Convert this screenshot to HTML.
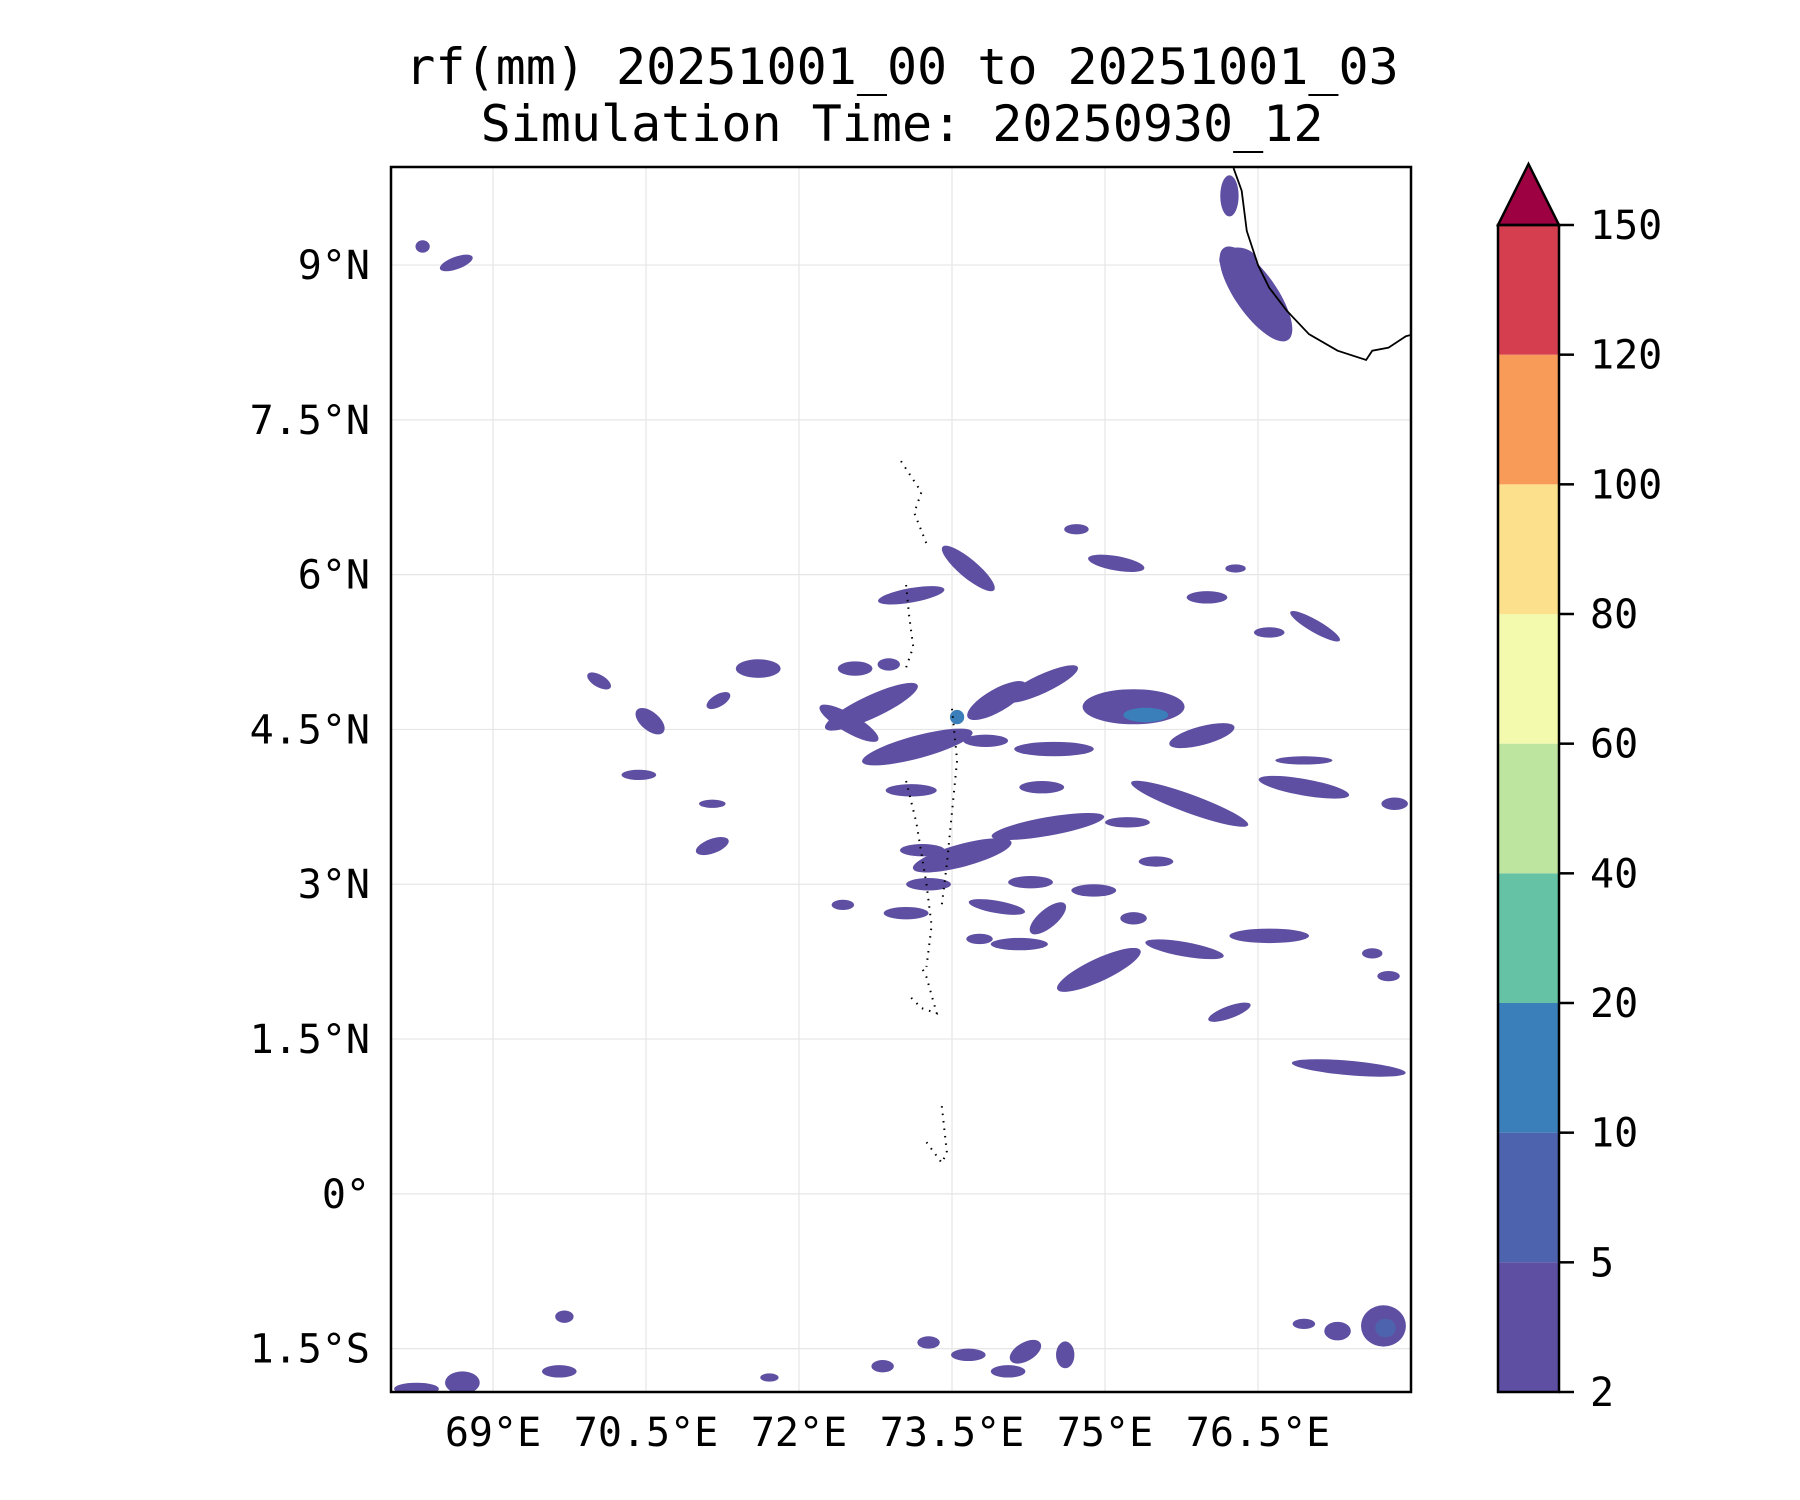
<!DOCTYPE html>
<html><head><meta charset="utf-8"><style>
html,body{margin:0;padding:0;background:#fff}
svg{display:block}
text{font-family:"DejaVu Sans Mono","Liberation Mono",monospace;fill:#000}
</style></head><body>
<svg id="chart" width="1800" height="1500" viewBox="0 0 1800 1500">
<text x="902" y="84" font-size="50" text-anchor="middle">rf(mm) 20251001_00 to 20251001_03</text>
<text x="902" y="141" font-size="50" text-anchor="middle">Simulation Time: 20250930_12</text>
<clipPath id="clip"><rect x="391" y="167" width="1020" height="1224"/></clipPath>
<g id="grid"></g>
<g id="blobs" clip-path="url(#clip)"></g>
<g id="coast" clip-path="url(#clip)"></g>
<rect x="391" y="167" width="1020" height="1225" fill="none" stroke="#000" stroke-width="2.5"/>
<g id="axes"></g>
<g id="cbar"></g>
</svg>
<script>
const lonTicks = [69, 70.5, 72, 73.5, 75, 76.5];
const lonLabels = ["69°E","70.5°E","72°E","73.5°E","75°E","76.5°E"];
const latTicks = [9, 7.5, 6, 4.5, 3, 1.5, 0, -1.5];
const latLabels = ["9°N","7.5°N","6°N","4.5°N","3°N","1.5°N","0°","1.5°S"];
const levels = [2,5,10,20,40,60,80,100,120,150];
const levelColors = ["#5e4fa2","#4e63ad","#3a7fb9","#66c2a5","#bee5a0","#f3faae","#fde08b","#f99b58","#d53e4f"];
const extendColor = "#9e0142";
const blobLon = [76.48,76.22,68.31,68.64,73.66,73.10,75.11,76.00,77.06,71.60,70.04,70.54,71.21,72.55,72.88,72.71,72.49,73.16,73.94,74.38,75.28,75.40,75.95,74.50,73.83,76.95,76.95,75.83,74.38,73.10,70.43,71.15,71.15,74.44,75.22,73.60,73.21,77.84,74.27,74.89,73.27,75.50,73.94,74.44,73.05,72.43,75.28,76.61,75.78,74.94,74.16,73.77,76.22,77.39,77.78,77.73,77.75,77.28,76.95,69.70,69.65,68.70,68.25,73.27,73.66,74.22,74.61,74.05,72.82,71.71,74.72,76.28,76.61,77.62,73.55,76.30];
const blobLat = [8.72,9.67,9.18,9.02,6.06,5.80,6.11,5.78,5.50,5.09,4.97,4.58,4.78,5.09,5.13,4.72,4.56,4.33,4.78,4.94,4.72,4.64,4.44,4.31,4.39,4.20,3.94,3.78,3.94,3.91,4.06,3.78,3.37,3.56,3.60,3.28,3.33,3.78,3.02,2.94,3.00,3.22,2.78,2.67,2.72,2.80,2.67,2.50,2.37,2.17,2.42,2.47,1.76,1.22,2.11,-1.28,-1.30,-1.33,-1.26,-1.19,-1.72,-1.83,-1.89,-1.44,-1.56,-1.53,-1.56,-1.72,-1.67,-1.78,6.44,6.06,5.44,2.33,4.62,9.05];
const blobRx = [0.55,0.09,0.07,0.17,0.33,0.33,0.28,0.20,0.28,0.22,0.13,0.17,0.13,0.17,0.11,0.50,0.33,0.56,0.33,0.39,0.50,0.22,0.33,0.39,0.22,0.28,0.45,0.61,0.22,0.25,0.17,0.13,0.17,0.56,0.22,0.50,0.22,0.13,0.22,0.22,0.22,0.17,0.28,0.22,0.22,0.11,0.13,0.39,0.39,0.45,0.28,0.13,0.22,0.56,0.11,0.22,0.10,0.13,0.11,0.09,0.17,0.17,0.22,0.11,0.17,0.17,0.09,0.17,0.11,0.09,0.12,0.10,0.15,0.10,0.07,0.18];
const blobRy = [0.20,0.20,0.06,0.06,0.09,0.07,0.07,0.06,0.06,0.09,0.06,0.09,0.06,0.07,0.06,0.11,0.09,0.11,0.11,0.09,0.17,0.07,0.09,0.07,0.06,0.04,0.08,0.09,0.06,0.06,0.05,0.04,0.07,0.09,0.05,0.11,0.06,0.06,0.06,0.06,0.06,0.05,0.06,0.09,0.06,0.05,0.06,0.07,0.07,0.11,0.06,0.05,0.06,0.07,0.05,0.20,0.09,0.09,0.05,0.06,0.06,0.11,0.06,0.06,0.06,0.09,0.13,0.06,0.06,0.04,0.05,0.04,0.05,0.05,0.07,0.12];
const blobRot = [55,0,0,-20,40,-10,10,0,30,0,30,40,-30,0,0,-25,30,-15,-30,-25,0,0,-15,0,0,0,10,20,0,0,0,0,-20,-10,0,-15,0,0,0,0,0,0,10,-40,0,0,0,0,10,-25,0,0,-20,5,0,0,0,0,0,0,0,0,0,0,0,-30,0,0,0,0,0,0,0,0,0,0];
const blobLevel = [0,0,0,0,0,0,0,0,0,0,0,0,0,0,0,0,0,0,0,0,0,2,0,0,0,0,0,0,0,0,0,0,0,0,0,0,0,0,0,0,0,0,0,0,0,0,0,0,0,0,0,0,0,0,0,0,1,0,0,0,0,0,0,0,0,0,0,0,0,0,0,0,0,0,2,0];
const coastLon = [76.26,76.34,76.39,76.50,76.61,76.78,77.00,77.28,77.56,77.62,77.78,77.95,78.1];
const coastLat = [9.94,9.72,9.33,9.00,8.78,8.56,8.33,8.17,8.08,8.17,8.20,8.31,8.35];
const atollLon = [[73.00,73.10,73.20,73.13,73.25],[73.05,73.08,73.12,73.05],[73.50,73.55,73.50,73.45,73.40],[73.05,73.15,73.25,73.30,73.25],[73.10,73.20,73.35,73.25,73.20],[73.40,73.45,73.40,73.25]];
const atollLat = [[7.10,6.95,6.80,6.60,6.30],[5.90,5.60,5.30,5.10],[4.70,4.20,3.70,3.20,2.80],[4.00,3.60,3.00,2.60,2.20],[1.90,1.80,1.75,2.10,2.20],[0.85,0.40,0.30,0.50]];

const SVGNS="http://www.w3.org/2000/svg";
const L0=68, L1=78, T0=9.95, T1=-1.92;
const px0=391, px1=1411, py0=167, py1=1392;
const X = lon => px0 + (lon-L0)/(L1-L0)*(px1-px0);
const Y = lat => py0 + (T0-lat)/(T0-T1)*(py1-py0);
const kx=(px1-px0)/(L1-L0), ky=(py1-py0)/(T0-T1);
function mk(tag, attrs, parent){const e=document.createElementNS(SVGNS,tag);for(const k in attrs)e.setAttribute(k,attrs[k]);parent.appendChild(e);return e;}

const grid=document.getElementById('grid'), axes=document.getElementById('axes');
lonTicks.forEach((v,i)=>{
  const g=mk('line',{x1:X(v),x2:X(v),y1:py0,y2:py1,stroke:'#e6e6e6','stroke-width':1.2},grid);
  
  
  const t=mk('text',{x:X(v),y:1446,'font-size':40,'text-anchor':'middle'},axes);
  t.textContent=lonLabels[i];
  
  
});
latTicks.forEach((v,i)=>{
  const g=mk('line',{x1:px0,x2:px1,y1:Y(v),y2:Y(v),stroke:'#e6e6e6','stroke-width':1.2},grid);
  
  
  const t=mk('text',{x:370,y:Y(v)+14,'font-size':40,'text-anchor':'end'},axes);
  t.textContent=latLabels[i];
  
  
});

const blobs=document.getElementById('blobs');
blobLon.forEach((lon,i)=>{
  const cx=X(lon), cy=Y(blobLat[i]);
  const e=mk('ellipse',{cx:cx,cy:cy,rx:blobRx[i]*kx,ry:blobRy[i]*ky,fill:levelColors[blobLevel[i]],transform:`rotate(${blobRot[i]} ${cx} ${cy})`},blobs);
  
  
});

const coast=document.getElementById('coast');
const cp=mk('polyline',{points:coastLon.map((v,i)=>X(v)+','+Y(coastLat[i])).join(' '),fill:'none',stroke:'#000','stroke-width':1.8},coast);


atollLon.forEach((arr,j)=>{
  const p=mk('polyline',{points:arr.map((v,i)=>X(v)+','+Y(atollLat[j][i])).join(' '),fill:'none',stroke:'#000','stroke-width':2,'stroke-dasharray':'1.5 6'},coast);
  
  
});

const cbar=document.getElementById('cbar');
const cx0=1498, cx1=1559, cy0=225, cy1=1392;
const cbY = k => cy1 - k*(cy1-cy0)/(levels.length-1);
levelColors.forEach((c,k)=>{
  const r=mk('rect',{x:cx0,y:cbY(k+1),width:cx1-cx0,height:cbY(k)-cbY(k+1),fill:c},cbar);
  
  
});
const tri=mk('polygon',{points:`${cx0},${cy0} ${cx1},${cy0} ${(cx0+cx1)/2},164`,fill:extendColor,stroke:'#000','stroke-width':2.5},cbar);


const ob=mk('rect',{x:cx0,y:cy0,width:cx1-cx0,height:cy1-cy0,fill:'none',stroke:'#000','stroke-width':2.5},cbar);


levels.forEach((v,k)=>{
  const y=cbY(k);
  const tk=mk('line',{x1:cx1,x2:cx1+15,y1:y,y2:y,stroke:'#000','stroke-width':2.5},cbar);
  
  
  const t=mk('text',{x:1590,y:y+14,'font-size':40},cbar);
  t.textContent=v;
  
  
});
</script>
</body></html>
